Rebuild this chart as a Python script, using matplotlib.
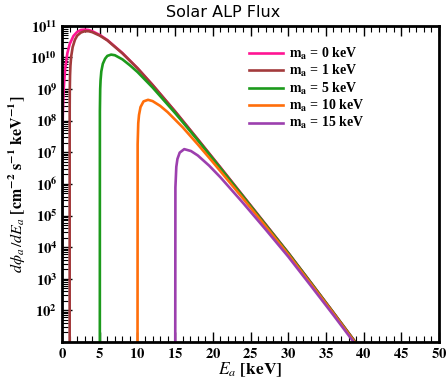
import matplotlib
matplotlib.use("Agg")
import matplotlib.pyplot as plt
from matplotlib.ticker import FixedLocator, MultipleLocator, LogLocator, FuncFormatter, NullFormatter
import numpy as np

# values (log10 of flux, cm^-2 s^-1 keV^-1)
E_m0 = [0.0013, 0.005, 0.02, 0.05, 0.1, 0.2, 0.4, 0.7, 1, 1.5, 2, 2.5, 3, 3.5, 4, 5, 6, 8,
        10, 12, 15, 18, 21, 24, 27, 30, 33, 36, 38.9]
L_m0 = [3.62, 5.07, 6.56, 7.55, 8.26, 8.97, 9.65, 10.14, 10.42, 10.68, 10.81, 10.87, 10.88,
        10.87, 10.83, 10.71, 10.55, 10.14, 9.66, 9.13, 8.29, 7.41, 6.52, 5.62, 4.72, 3.82,
        2.88, 1.93, 1.0]

E_m1 = [1.0, 1.001, 1.005, 1.02, 1.05, 1.1, 1.2, 1.4, 1.7, 2, 2.5, 3, 3.5, 4, 5, 6, 8,
        10, 12, 15, 18, 21, 24, 27, 30, 33, 36, 38.9]
L_m1 = [-1, 7.72, 8.44, 9.03, 9.43, 9.73, 10.03, 10.33, 10.56, 10.69, 10.79, 10.83, 10.83,
        10.80, 10.69, 10.54, 10.13, 9.66, 9.13, 8.29, 7.41, 6.52, 5.62, 4.72, 3.82, 2.88,
        1.93, 1.0]

E_m5 = [5.0, 5.01, 5.05, 5.1, 5.2, 5.4, 5.7, 6, 6.5, 7, 8, 9, 10, 12, 15, 18, 21, 24, 27,
        30, 33, 36, 38.9]
L_m5 = [-1, 8.31, 9.00, 9.28, 9.56, 9.80, 9.96, 10.05, 10.09, 10.07, 9.94, 9.75, 9.54,
        9.05, 8.24, 7.38, 6.49, 5.60, 4.70, 3.81, 2.87, 1.92, 0.99]

E_m10 = [10.0, 10.02, 10.1, 10.2, 10.4, 10.8, 11.4, 12, 13, 14, 16, 18, 20, 24, 27, 30,
         33, 36, 38.9]
L_m10 = [-1, 7.26, 7.92, 8.18, 8.43, 8.61, 8.66, 8.62, 8.47, 8.27, 7.79, 7.25, 6.69, 5.54,
         4.66, 3.77, 2.84, 1.90, 0.97]

E_m15 = [15.0, 15.03, 15.15, 15.3, 15.6, 16.2, 17.1, 18, 19.5, 21, 24, 27, 30, 33, 36, 38.9]
L_m15 = [-1, 5.89, 6.54, 6.79, 6.99, 7.10, 7.04, 6.90, 6.58, 6.21, 5.40, 4.56, 3.70, 2.78,
         1.85, 0.93]

SERIES = [
    (E_m0, L_m0, "0", "#ff1493"),
    (E_m1, L_m1, "1", "#a33a3c"),
    (E_m5, L_m5, "5", "#1c9a1c"),
    (E_m10, L_m10, "10", "#ff6e0a"),
    (E_m15, L_m15, "15", "#9c3fae"),
]

plt.rcParams.update({"mathtext.fontset": "stix", "font.family": "Liberation Serif",
                     "axes.linewidth": 2.0})

fig = plt.figure(figsize=(4.47, 3.80), dpi=100)
ax = fig.add_axes([0.139, 0.1, 0.843, 0.832])

for e, l, m, c in SERIES:
    ax.plot(e, 10.0 ** np.array(l), color=c, lw=1.9,
            label=r"$\mathbf{m_a}$ = %s keV" % m)

ax.set_yscale("log")
ax.set_xlim(0, 50)
ax.set_ylim(10, 1e11)

ax.xaxis.set_major_locator(MultipleLocator(5))
ax.xaxis.set_minor_locator(MultipleLocator(1))
ax.xaxis.set_major_formatter(FuncFormatter(lambda v, p: r"$\mathbf{%d}$" % v))
ax.yaxis.set_major_locator(FixedLocator([10.0 ** k for k in range(2, 12)]))
ax.yaxis.set_minor_locator(LogLocator(base=10, subs=np.arange(2, 10), numticks=20))
ax.yaxis.set_major_formatter(FuncFormatter(lambda v, p: r"$\mathbf{10^{%d}}$" % round(np.log10(v))))
ax.yaxis.set_minor_formatter(NullFormatter())
ax.tick_params(which="both", direction="in", top=True, right=False, labelsize=10.5)
ax.tick_params(which="major", length=7, width=1.0)
ax.tick_params(which="minor", length=4, width=0.8)

# title is centred on the figure, not on the axes
fig.text(0.5, 0.967, "Solar ALP Flux", fontsize=11.5, family="DejaVu Sans",
         ha="center", va="center")
ax.set_xlabel(r"$E_a$ $\mathbf{[keV]}$", fontsize=12.5, labelpad=0)
ax.set_ylabel(r"$d\phi_a\,/dE_a$ $\mathbf{[cm^{-2}\ s^{-1}\ keV^{-1}]}$", fontsize=11.5,
              labelpad=2)

ax.legend(frameon=False, loc="upper left", bbox_to_anchor=(0.478, 0.96),
          prop=dict(weight="bold", size=10),
          handlelength=2.4, handletextpad=0.5, labelspacing=0.1, borderpad=0)

fig.savefig("out.png")
